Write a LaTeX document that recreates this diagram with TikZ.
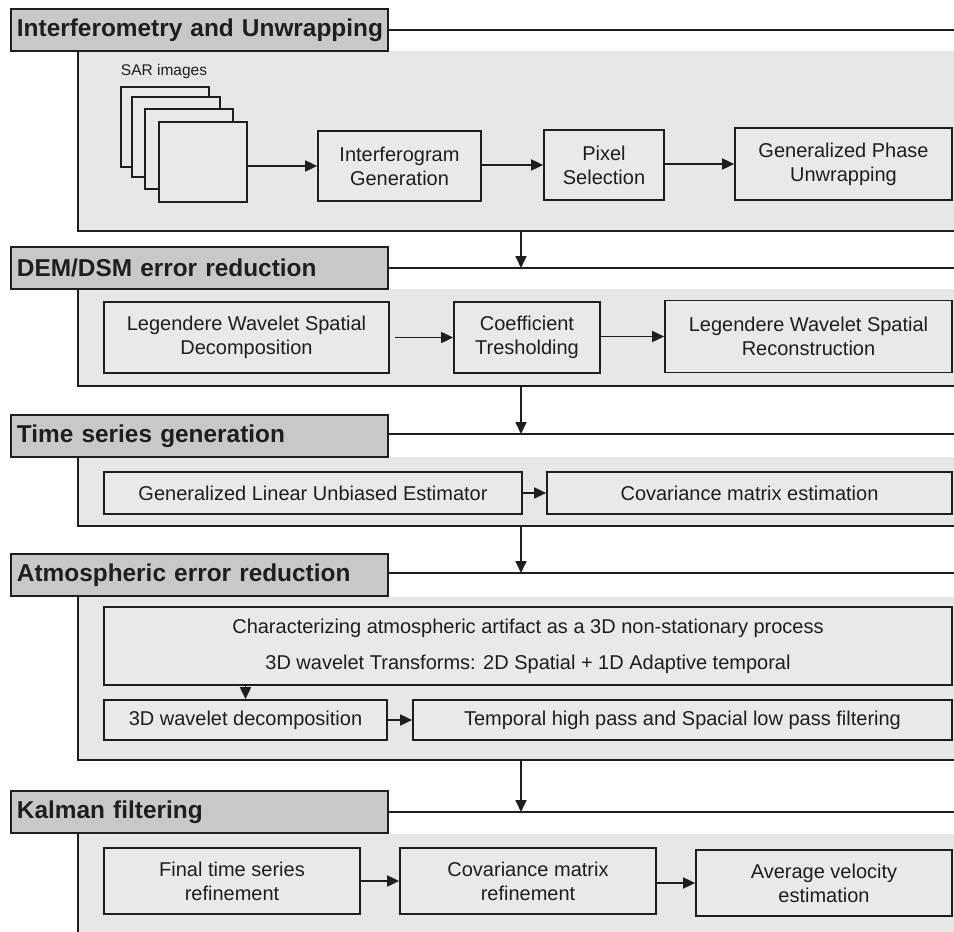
\documentclass[tikz,border=0pt]{standalone}
\usepackage{fontspec}
\setmainfont{Liberation Sans}
\usetikzlibrary{arrows.meta}

\definecolor{headgray}{HTML}{C8C8C8}
\definecolor{panelgray}{HTML}{E6E6E6}
\definecolor{boxgray}{HTML}{E9E9E9}
\definecolor{inkgray}{HTML}{1E1E1E}

\tikzset{
  headbox/.style={draw=inkgray, fill=headgray, line width=1.9pt, anchor=west,
    minimum height=42pt, text width=365pt, inner xsep=6pt, align=left,
    text=inkgray, font=\fontsize{24.4}{29}\selectfont\bfseries},
  procbox/.style={draw=inkgray, fill=boxgray, line width=1.7pt, align=center,
    inner sep=0pt, text=inkgray, font=\fontsize{20}{24}\selectfont},
  sarimg/.style={draw=inkgray, fill=boxgray, line width=1.7pt, anchor=north west,
    minimum width=88pt, minimum height=80pt, inner sep=0pt},
  panelline/.style={draw=inkgray, line width=2pt},
  flow/.style={draw=inkgray, line width=1.7pt, -{Triangle[length=12pt,width=11pt]}}
}

\begin{document}
\begin{tikzpicture}[x=1pt, y=-1pt]
      \useasboundingbox[fill=white] (0,0) rectangle (954,932);

      \fill[panelgray] (78,51) rectangle (954,231);
      \fill[panelgray] (78,289) rectangle (954,386);
      \fill[panelgray] (78,457) rectangle (954,526);
      \fill[panelgray] (78,597) rectangle (954,760);
      \fill[panelgray] (78,834) rectangle (954,932);

      \draw[panelline] (78,51) -- (78,231) -- (954,231);
      \draw[panelline] (78,289) -- (78,386) -- (954,386);
      \draw[panelline] (78,457) -- (78,526) -- (954,526);
      \draw[panelline] (78,597) -- (78,760) -- (954,760);
      \draw[panelline] (78,834) -- (78,932);

      \node[headbox] (head1) at (10,30) {\mbox{Interferometry and Unwrapping}};
      \node[headbox] (head2) at (10,268) {\mbox{DEM/DSM error reduction}};
      \node[headbox] (head3) at (10,436) {\mbox{Time series generation}};
      \node[headbox] (head4) at (10,575) {\mbox{Atmospheric error reduction}};
      \node[headbox] (head5) at (10,812) {\mbox{Kalman filtering}};

      \coordinate (end1) at (954,30);
      \coordinate (end2) at (954,268);
      \coordinate (end3) at (954,434);
      \coordinate (end4) at (954,573);
      \coordinate (end5) at (954,812);

      \draw[panelline] (head1.east) -- (end1);
      \draw[panelline] (head2.east) -- (end2);
      \draw[panelline] (head3.east |- end3) -- (end3);
      \draw[panelline] (head4.east |- end4) -- (end4);
      \draw[panelline] (head5.east) -- (end5);

      \node[text=inkgray, font=\fontsize{15.5}{18}\selectfont] (sarlabel) at (164,71) {SAR images};
      \node[sarimg] (sar1) at (120,86) {};
      \node[sarimg] (sar2) at (131,96) {};
      \node[sarimg] (sar3) at (144,108) {};
      \node[sarimg] (sar4) at (158,121) {};

      \node[procbox, minimum width=163pt, minimum height=70pt] (interf) at (399.5,166) {Interferogram\\Generation};
      \node[procbox, minimum width=120pt, minimum height=70pt] (pixsel) at (604,165) {Pixel\\Selection};
      \node[procbox, minimum width=217pt, minimum height=72pt] (unwrap) at (843.5,164) {Generalized Phase\\Unwrapping};

      \draw[flow] (sar4.east |- interf.west) -- (interf.west);
      \draw[flow] (interf.east |- pixsel.west) -- (pixsel.west);
      \draw[flow] (pixsel.east |- unwrap.west) -- (unwrap.west);

      \node[procbox, minimum width=285pt, minimum height=71pt] (legdec) at (246.5,337.5) {Legendere Wavelet Spatial\\Decomposition};
      \node[procbox, minimum width=146pt, minimum height=71pt] (coeff) at (527,337.5) {Coefficient\\Tresholding};
      \node[procbox, minimum width=287pt, minimum height=72pt] (legrec) at (808.5,336.5) {Legendere Wavelet Spatial\\Reconstruction};

      \draw[flow, shorten <=5pt] (legdec.east) -- (coeff.west);
      \draw[flow] (coeff.east |- legrec.west) -- (legrec.west);

      \node[procbox, minimum width=418pt, minimum height=42pt] (glue) at (313,493) {Generalized Linear Unbiased Estimator};
      \node[procbox, minimum width=405pt, minimum height=42pt] (covest) at (749.5,493) {Covariance matrix estimation};

      \draw[flow] (glue.east) -- (covest.west);

      \node[procbox, minimum width=848pt, minimum height=78pt] (charac) at (528,646) {Characterizing atmospheric artifact as a 3D non-stationary process\\[12pt]3D wavelet Transforms: 2D Spatial + 1D Adaptive temporal};
      \node[procbox, minimum width=283pt, minimum height=40pt] (wdec) at (245.5,720) {3D wavelet decomposition};
      \node[procbox, minimum width=539pt, minimum height=40pt] (filt) at (682.5,720) {Temporal high pass and Spacial low pass filtering};

      \draw[flow] (charac.south -| wdec.north) -- (wdec.north);
      \draw[flow] (wdec.east) -- (filt.west);

      \node[procbox, minimum width=256pt, minimum height=66pt] (finref) at (232,881) {Final time series\\refinement};
      \node[procbox, minimum width=256pt, minimum height=66pt] (covref) at (528,881) {Covariance matrix\\refinement};
      \node[procbox, minimum width=256pt, minimum height=66pt] (avgvel) at (824,883) {Average velocity\\estimation};

      \draw[flow] (finref.east) -- (covref.west);
      \draw[flow] (covref.east |- avgvel.west) -- (avgvel.west);

      \coordinate (out1) at (521,231);
      \coordinate (out2) at (521,386);
      \coordinate (out3) at (521,526);
      \coordinate (out4) at (521,760);

      \draw[flow] (out1) -- (out1 |- end2);
      \draw[flow] (out2) -- (out2 |- end3);
      \draw[flow] (out3) -- (out3 |- end4);
      \draw[flow] (out4) -- (out4 |- end5);
    \end{tikzpicture}
\end{document}
